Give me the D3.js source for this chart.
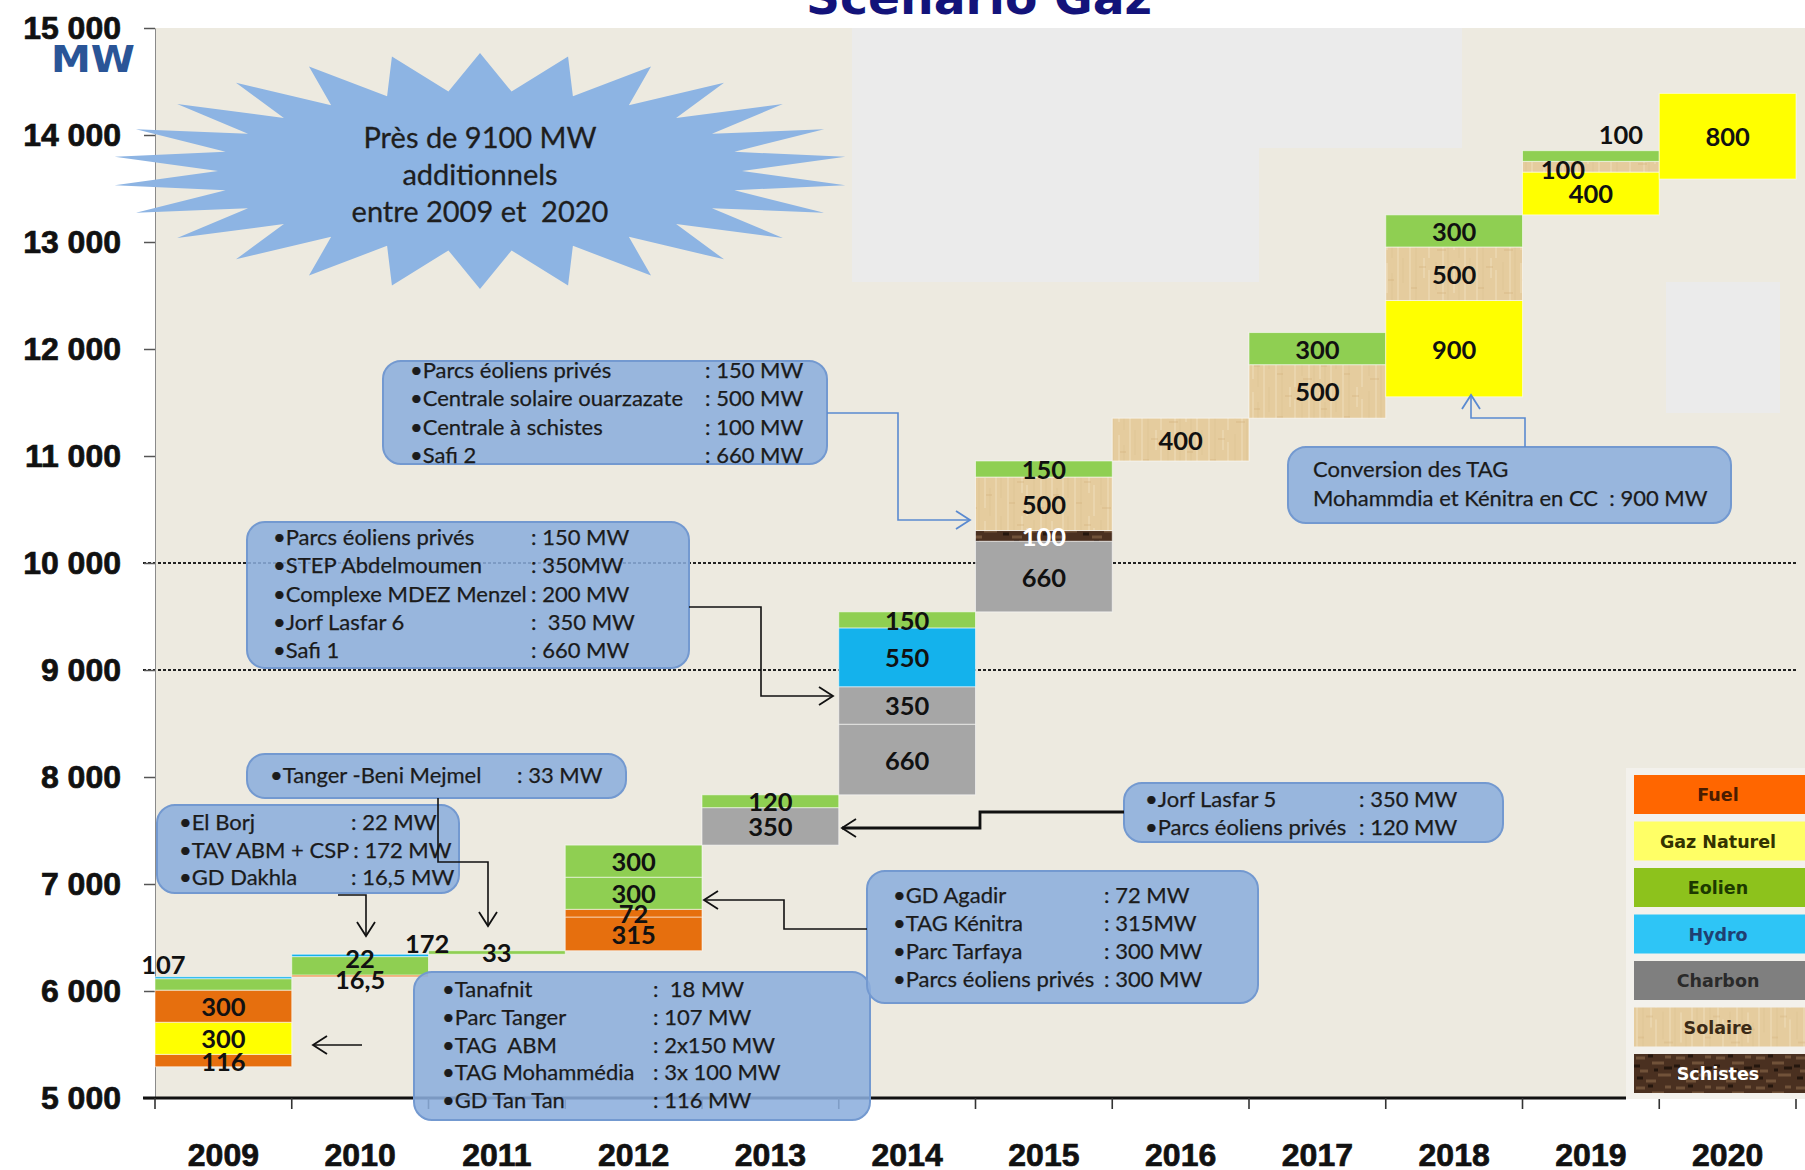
<!DOCTYPE html>
<html>
<head>
<meta charset="utf-8">
<script src="https://cdn.jsdelivr.net/npm/d3@7"></script>
<style>
  body { margin: 0; background: #fff; }
  svg { display: block; }
  text { white-space: pre; }
</style>
</head>
<body>
<svg id="chart" width="1805" height="1170"></svg>
<script>
var years = ['2009', '2010', '2011', '2012', '2013', '2014', '2015', '2016', '2017', '2018', '2019', '2020']
var sources = ['Fuel', 'Gaz Naturel', 'Eolien', 'Hydro', 'Charbon', 'Solaire', 'Schistes']
var yTicks = [5000, 6000, 7000, 8000, 9000, 10000, 11000, 12000, 13000, 14000, 15000]
var gridValues = [9000, 10000]

// puissance installée fin 2008 (MW)
var capacite2008 = 5292
// baisse du niveau avant les ajouts de l'année (conversion des TAG)
var retraits = [0, 0, 0, 0, 0, 0, 0, 0, 0, 600, 0, 265]
// [année, source, MW] dans l'ordre d'empilement
var ajouts = [
  ['2009', 'Fuel', 116], ['2009', 'Gaz Naturel', 300], ['2009', 'Fuel', 300], ['2009', 'Eolien', 107], ['2009', 'Hydro', 18],
  ['2010', 'Fuel', 16.5], ['2010', 'Eolien', 172], ['2010', 'Hydro', 22],
  ['2011', 'Eolien', 33],
  ['2012', 'Fuel', 315], ['2012', 'Fuel', 72], ['2012', 'Eolien', 300], ['2012', 'Eolien', 300],
  ['2013', 'Charbon', 350], ['2013', 'Eolien', 120],
  ['2014', 'Charbon', 660], ['2014', 'Charbon', 350], ['2014', 'Hydro', 550], ['2014', 'Eolien', 150],
  ['2015', 'Charbon', 660], ['2015', 'Schistes', 100], ['2015', 'Solaire', 500], ['2015', 'Eolien', 150],
  ['2016', 'Solaire', 400],
  ['2017', 'Solaire', 500], ['2017', 'Eolien', 300],
  ['2018', 'Gaz Naturel', 900], ['2018', 'Solaire', 500], ['2018', 'Eolien', 300],
  ['2019', 'Gaz Naturel', 400], ['2019', 'Solaire', 100], ['2019', 'Eolien', 100],
  ['2020', 'Gaz Naturel', 800]
]

var texte2015 = [['•Parcs éoliens privés', ': 150 MW'], ['•Centrale solaire ouarzazate', ': 500 MW'], ['•Centrale à schistes', ': 100 MW'], ['•Safi 2', ': 660 MW']]
var texte2014 = [['•Parcs éoliens privés', ': 150 MW'], ['•STEP Abdelmoumen', ': 350MW'], ['•Complexe MDEZ Menzel', ': 200 MW'], ['•Jorf Lasfar 6', ':  350 MW'], ['•Safi 1', ': 660 MW']]
var texte2011 = [['•Tanger -Beni Mejmel', ': 33 MW']]
var texte2010 = [['•El Borj', ': 22 MW'], ['•TAV ABM + CSP', ': 172 MW'], ['•GD Dakhla', ': 16,5 MW']]
var texte2009 = [['•Tanafnit', ':  18 MW'], ['•Parc Tanger', ': 107 MW'], ['•TAG  ABM', ': 2x150 MW'], ['•TAG Mohammédia', ': 3x 100 MW'], ['•GD Tan Tan', ': 116 MW']]
var texte2012 = [['•GD Agadir', ': 72 MW'], ['•TAG Kénitra', ': 315MW'], ['•Parc Tarfaya', ': 300 MW'], ['•Parcs éoliens privés', ': 300 MW']]
var texte2013 = [['•Jorf Lasfar 5', ': 350 MW'], ['•Parcs éoliens privés', ': 120 MW']]
var texte2018 = [['Conversion des TAG', ''], ['Mohammdia et Kénitra en CC  : 900 MW', '']]
var texteEtoile = ['Près de 9100 MW', 'additionnels', 'entre 2009 et  2020']

var couleurs = { 'Fuel': '#E66F0E', 'Gaz Naturel': '#FFFF00', 'Eolien': '#8FCF52', 'Hydro': '#14B2EC', 'Charbon': '#A6A6A6', 'Solaire': 'url(#pSolaire)', 'Schistes': 'url(#pSchistes)' }
var couleursLegende = { 'Fuel': '#FF6600', 'Gaz Naturel': '#FFFF66', 'Eolien': '#8DC21C', 'Hydro': '#2EC5F6', 'Charbon': '#7F7F7F', 'Solaire': 'url(#pSolaire)', 'Schistes': 'url(#pSchistes)' }
var texteLegende = { 'Fuel': '#4a1d00', 'Gaz Naturel': '#333300', 'Eolien': '#1d3a00', 'Hydro': '#1f3f72', 'Charbon': '#2a2a2a', 'Solaire': '#3b2a16', 'Schistes': '#ffffff' }

var svg = d3.select('#chart')
  , x = d3.scaleBand().domain(years).range([155, 1796])
  , y = d3.scaleLinear().domain([5000, 15000]).range([1098, 28])

// textures solaire / schistes (grain fixe)
var defs = svg.append('defs')
var pSol = defs.append('pattern').attr('id', 'pSolaire').attr('patternUnits', 'userSpaceOnUse').attr('width', 67).attr('height', 43)
pSol.append('rect').attr('width', 67).attr('height', 43).attr('fill', '#E5CC9E')
pSol.append('path').attr('d', 'M3 0v43M17 0v20M22 12v31M36 0v43M47 5v30M58 0v43')
  .attr('stroke', '#EEDCB9').attr('stroke-width', 2).attr('opacity', 0.55)
pSol.append('path').attr('d', 'M9 0v43M29 4v28M41 0v43M52 15v28M63 0v25')
  .attr('stroke', '#D6BA8A').attr('stroke-width', 1).attr('opacity', 0.4)
pSol.append('path').attr('d', 'M12 9h7M30 35h9M48 22h6M4 30h6')
  .attr('stroke', '#D2B27C').attr('stroke-width', 2).attr('opacity', 0.35)
var pSch = defs.append('pattern').attr('id', 'pSchistes').attr('patternUnits', 'userSpaceOnUse').attr('width', 40).attr('height', 30)
pSch.append('rect').attr('width', 40).attr('height', 30).attr('fill', '#4A3020')
pSch.append('path').attr('d', 'M2 4h9M18 9h12M6 17h8M24 21h13M12 27h10M31 3h6').attr('stroke', '#7A5A40').attr('stroke-width', 3).attr('opacity', 0.8)
pSch.append('path').attr('d', 'M14 2h5M0 12h6M30 14h8M3 24h6M20 16h4').attr('stroke', '#24160D').attr('stroke-width', 3)

// fond du graphique
svg.append('rect').attr('x', 155).attr('y', y(15000)).attr('width', 1805 - 155).attr('height', y(5000) - y(15000)).attr('fill', '#EDEAE0')
var zonesGrises = [[852, 28, 407, 254], [1259, 28, 203, 120], [1666, 282, 114, 131]]
svg.selectAll('rect.patch').data(zonesGrises).enter().append('rect')
  .attr('class', 'patch')
  .attr('x', function(d) { return d[0] }).attr('y', function(d) { return d[1] })
  .attr('width', function(d) { return d[2] }).attr('height', function(d) { return d[3] })
  .attr('fill', '#EBEBEB')

// titre coupé en haut
svg.append('text').attr('x', 806).attr('y', 14)
  .attr('textLength', 346).attr('lengthAdjust', 'spacingAndGlyphs')
  .style('font', 'bold 46px "DejaVu Sans"').attr('fill', '#13137A')
  .text('Scénario Gaz')

// grille pointillée
svg.selectAll('line.grid').data(gridValues).enter().append('line')
  .attr('class', 'grid')
  .attr('x1', 143).attr('x2', 1796)
  .attr('y1', function(d) { return y(d) }).attr('y2', function(d) { return y(d) })
  .attr('stroke', '#222').attr('stroke-width', 1.8).attr('stroke-dasharray', '3,2')

// axe Y
var yAxis = svg.append('g').attr('transform', 'translate(155,0)')
  .call(d3.axisLeft(y).tickValues(yTicks).tickSizeInner(11).tickSizeOuter(0).tickPadding(23)
    .tickFormat(function(d) { return d3.format(',')(d).replace(/,/g, ' ') }))
yAxis.select('.domain').attr('stroke', '#8a8a8a')
yAxis.selectAll('.tick line').attr('stroke', '#555').attr('stroke-width', 1.5)
yAxis.selectAll('.tick text').style('font', 'bold 32px "Liberation Sans"').attr('fill', '#111')
  .attr('stroke', '#111').attr('stroke-width', 0.7)

svg.append('text').attr('x', 51).attr('y', 72)
  .attr('textLength', 84).attr('lengthAdjust', 'spacingAndGlyphs')
  .style('font', 'bold 38px "DejaVu Sans"').attr('fill', '#2A5597').text('MW')

// étoile
var etoile = { cx: 480, cy: 171, rxIn: 262, ryIn: 80, rxOut: 368, ryOut: 118, n: 26 }
var ptsEtoile = d3.range(etoile.n * 2).map(function(i) {
  var a = -Math.PI / 2 + i * Math.PI / etoile.n
    , out = i % 2 === 0
  return [etoile.cx + (out ? etoile.rxOut : etoile.rxIn) * Math.cos(a),
          etoile.cy + (out ? etoile.ryOut : etoile.ryIn) * Math.sin(a)]
})
svg.append('path').attr('d', d3.line()(ptsEtoile) + 'Z').attr('fill', '#8DB4E3')
svg.selectAll('text.etoile').data(texteEtoile).enter().append('text')
  .attr('class', 'etoile')
  .attr('x', etoile.cx).attr('y', function(d, i) { return 148 + i * 37 })
  .attr('text-anchor', 'middle')
  .style('font', '29px Lato').attr('fill', '#1e1e1e')
  .attr('stroke', '#1e1e1e').attr('stroke-width', 0.3)
  .text(function(d) { return d })

// empilement des ajouts
var niveau = capacite2008
  , segments = []
years.forEach(function(an, i) {
  niveau -= retraits[i]
  ajouts.filter(function(a) { return a[0] === an }).forEach(function(a) {
    segments.push({ an: an, source: a[1], mw: a[2], y0: niveau, y1: niveau + a[2] })
    niveau += a[2]
  })
})

svg.append('g').selectAll('rect').data(segments).enter().append('rect')
  .attr('x', function(d) { return x(d.an) })
  .attr('width', x.bandwidth())
  .attr('y', function(d) { return y(d.y1) })
  .attr('height', function(d) { return y(d.y0) - y(d.y1) })
  .attr('fill', function(d) { return couleurs[d.source] })
  .attr('stroke', 'rgba(255,255,255,0.55)').attr('stroke-width', 1)

// décalages de certaines étiquettes
var decalages = {
  '2009 Hydro 18': null,
  '2009 Eolien 107': [-60, -20],
  '2010 Fuel 16.5': [0, 3],
  '2010 Eolien 172': [67, -23],
  '2010 Hydro 22': [0, 3],
  '2019 Eolien 100': [30, -22],
  '2019 Solaire 100': [-28, 2]
}
svg.append('g').selectAll('text').data(segments.filter(function(d) {
  return decalages[d.an + ' ' + d.source + ' ' + d.mw] !== null
})).enter().append('text')
  .attr('x', function(d) {
    var k = decalages[d.an + ' ' + d.source + ' ' + d.mw]
    return x(d.an) + x.bandwidth() / 2 + (k ? k[0] : 0)
  })
  .attr('y', function(d) {
    var k = decalages[d.an + ' ' + d.source + ' ' + d.mw]
    return y((d.y0 + d.y1) / 2) + (k ? k[1] : 0)
  })
  .attr('text-anchor', 'middle').attr('dominant-baseline', 'central')
  .style('font', 'bold 25.5px Lato')
  .attr('fill', function(d) { return d.source === 'Schistes' ? '#fff' : '#111' })
  .text(function(d) { return String(d.mw).replace('.', ',') })

// axe X
var xAxis = svg.append('g').attr('transform', 'translate(0,1098)')
  .call(d3.axisBottom(x).tickSize(0).tickPadding(45))
xAxis.select('.domain').remove()
xAxis.selectAll('.tick text').style('font', 'bold 32px "Liberation Sans"').attr('fill', '#111')
  .attr('stroke', '#111').attr('stroke-width', 0.7)
svg.append('line').attr('x1', 143).attr('x2', 1626).attr('y1', 1098).attr('y2', 1098)
  .attr('stroke', '#111').attr('stroke-width', 3)
svg.selectAll('line.xtick').data(years.map(function(d) { return x(d) }).concat([x.range()[1]])).enter().append('line')
  .attr('class', 'xtick')
  .attr('x1', function(d) { return d }).attr('x2', function(d) { return d })
  .attr('y1', 1098).attr('y2', 1109)
  .attr('stroke', '#333').attr('stroke-width', 1.6)

// bulles de commentaires
var bulles = [
  { x: 383, y: 361, w: 444, h: 103, tx: 410, vx: 705, y0: 378, dy: 28.3, lignes: texte2015 },
  { x: 247, y: 522, w: 442, h: 146, tx: 273, vx: 531, y0: 545, dy: 28.3, lignes: texte2014 },
  { x: 247, y: 754, w: 379, h: 44, tx: 270, vx: 517, y0: 783, dy: 0, lignes: texte2011 },
  { x: 157, y: 805, w: 302, h: 88, tx: 179, vx: 351, y0: 830, dy: 27.5, lignes: texte2010 },
  { x: 414, y: 972, w: 456, h: 148, tx: 442, vx: 653, y0: 997, dy: 27.8, lignes: texte2009 },
  { x: 867, y: 871, w: 391, h: 132, tx: 893, vx: 1104, y0: 903, dy: 28, lignes: texte2012 },
  { x: 1124, y: 783, w: 379, h: 59, tx: 1145, vx: 1359, y0: 807, dy: 28, lignes: texte2013 },
  { x: 1288, y: 447, w: 443, h: 76, tx: 1313, vx: 0, y0: 477, dy: 29, lignes: texte2018 }
]
var gB = svg.append('g')
bulles.forEach(function(b, i) {
  defs.append('clipPath').attr('id', 'clipB' + i).append('rect')
    .attr('x', b.x).attr('y', b.y).attr('width', b.w).attr('height', b.h).attr('rx', 18)
  gB.append('rect').attr('x', b.x).attr('y', b.y).attr('width', b.w).attr('height', b.h).attr('rx', 18)
    .attr('fill', '#8BADDC').attr('fill-opacity', 0.87)
    .attr('stroke', '#7399D0').attr('stroke-width', 2)
  var gt = gB.append('g').attr('clip-path', 'url(#clipB' + i + ')')
  b.lignes.forEach(function(l, j) {
    var t = gt.append('text').attr('x', b.tx).attr('y', b.y0 + j * b.dy)
      .style('font', '22px Lato').attr('fill', '#1b1b1b')
      .attr('stroke', '#1b1b1b').attr('stroke-width', 0.25).text(l[0])
    if (l[1]) {
      var fin = b.tx + t.node().getComputedTextLength() + 4
      gt.append('text').attr('x', Math.max(b.vx, fin)).attr('y', b.y0 + j * b.dy)
        .style('font', '22px Lato').attr('fill', '#1b1b1b')
        .attr('stroke', '#1b1b1b').attr('stroke-width', 0.25).text(l[1])
    }
  })
})

// flèches
var fleches = [
  { pts: [[827, 413], [898, 413], [898, 520], [970, 520]], c: '#5A8AD0', w: 1.6 },
  { pts: [[689, 607], [761, 607], [761, 696], [833, 696]], c: '#111', w: 1.6 },
  { pts: [[438, 798], [438, 862], [488, 862], [488, 926]], c: '#111', w: 1.6 },
  { pts: [[338, 895], [366, 895], [366, 936]], c: '#111', w: 1.6 },
  { pts: [[362, 1045], [313, 1045]], c: '#111', w: 1.6 },
  { pts: [[867, 929], [784, 929], [784, 900], [704, 900]], c: '#111', w: 1.6 },
  { pts: [[1124, 812], [980, 812], [980, 828], [842, 828]], c: '#111', w: 2.8 },
  { pts: [[1525, 447], [1525, 418], [1471, 418], [1471, 395]], c: '#5A8AD0', w: 1.6 }
]
fleches.forEach(function(f, i) {
  defs.append('marker').attr('id', 'fl' + i)
    .attr('markerUnits', 'userSpaceOnUse').attr('markerWidth', 20).attr('markerHeight', 22)
    .attr('refX', 15).attr('refY', 10).attr('orient', 'auto')
    .append('path').attr('d', 'M1,1 L15,10 L1,19')
    .attr('fill', 'none').attr('stroke', f.c).attr('stroke-width', 1.8)
  svg.append('path').attr('d', d3.line()(f.pts))
    .attr('fill', 'none').attr('stroke', f.c).attr('stroke-width', f.w)
    .attr('marker-end', 'url(#fl' + i + ')')
})

// légende
svg.append('rect').attr('x', 1626).attr('y', 768).attr('width', 1805 - 1626).attr('height', 331).attr('fill', '#F3F1EC')
var leg = svg.append('g').selectAll('g').data(sources).enter().append('g')
  .attr('transform', function(d, i) { return 'translate(1634,' + (775 + i * 46.5) + ')' })
leg.append('rect').attr('width', 171).attr('height', 39)
  .attr('fill', function(d) { return couleursLegende[d] })
leg.append('text').attr('x', 84).attr('y', 20)
  .attr('text-anchor', 'middle').attr('dominant-baseline', 'central')
  .style('font', 'bold 17.5px "DejaVu Sans"')
  .attr('fill', function(d) { return texteLegende[d] })
  .text(function(d) { return d })
</script>
</body>
</html>
